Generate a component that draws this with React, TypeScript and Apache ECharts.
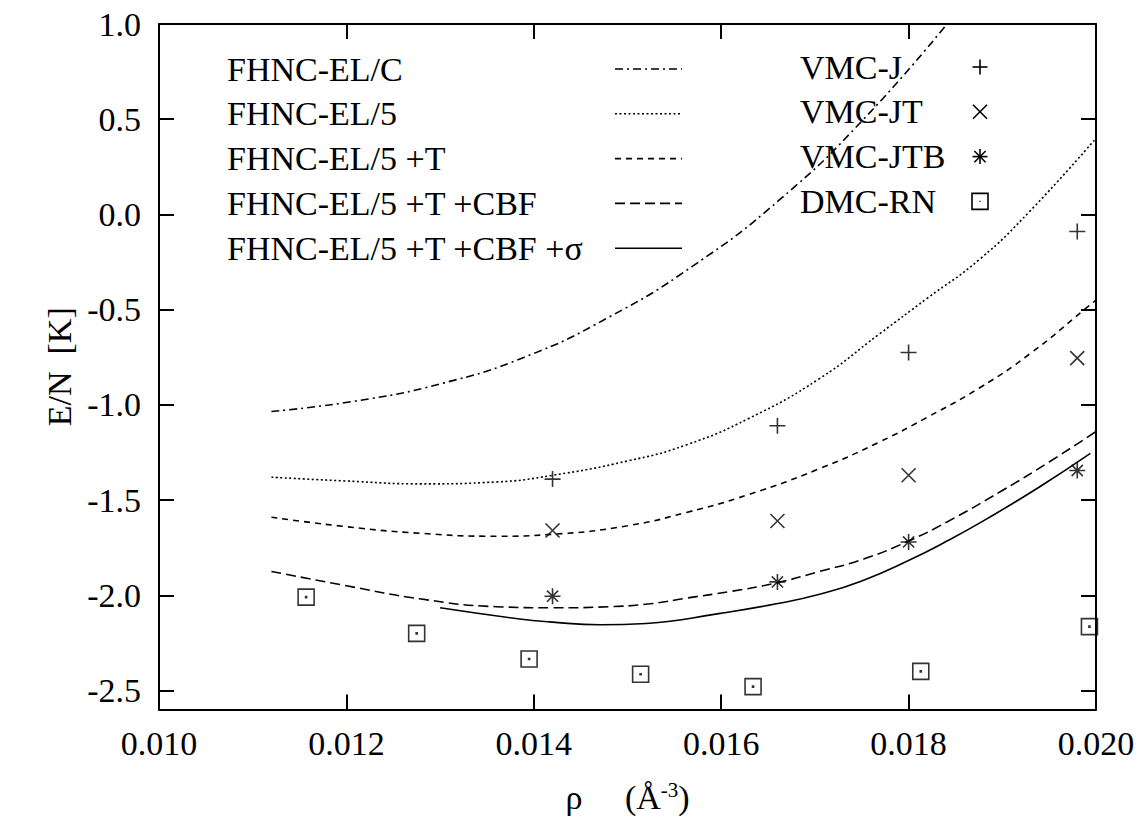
import React, { useEffect, useRef } from "react";
import * as echarts from "echarts";

// ---- data ----
const X_TICKS = [0.01, 0.012, 0.014, 0.016, 0.018, 0.02];
const Y_TICKS = [-2.5, -2.0, -1.5, -1.0, -0.5, 0.0, 0.5, 1.0];

const LINE_NAMES = [
  "FHNC-EL/C",
  "FHNC-EL/5",
  "FHNC-EL/5 +T",
  "FHNC-EL/5 +T +CBF",
  "FHNC-EL/5 +T +CBF +σ",
];
const POINT_NAMES = ["VMC-J", "VMC-JT", "VMC-JTB", "DMC-RN"];

const rhoELC = [0.0112, 0.0121, 0.013, 0.0139, 0.0148, 0.0157, 0.01663, 0.01752, 0.01841];
const eELC = [-1.035, -0.98, -0.89, -0.75, -0.54, -0.27, 0.08, 0.5, 1.0];

const rhoEL5 = [0.0112, 0.012, 0.0128, 0.0136, 0.0142, 0.015, 0.01563, 0.0163, 0.01705, 0.01769, 0.0182, 0.01876, 0.0193, 0.02];
const eEL5 = [-1.38, -1.4, -1.415, -1.405, -1.37, -1.295, -1.21, -1.07, -0.862, -0.627, -0.44, -0.235, 0.02, 0.4];

const rhoEL5T = [0.0112, 0.012, 0.0128, 0.0136, 0.0142, 0.015, 0.01563, 0.0163, 0.01705, 0.01769, 0.0182, 0.01876, 0.0193, 0.0199, 0.02];
const eEL5T = [-1.59, -1.64, -1.675, -1.69, -1.68, -1.635, -1.565, -1.47, -1.335, -1.195, -1.065, -0.91, -0.73, -0.49, -0.45];

const rhoEL5TC = [0.0112, 0.012, 0.0128, 0.0136, 0.0142, 0.0148, 0.01524, 0.01563, 0.0161, 0.01659, 0.01705, 0.01752, 0.018, 0.01841, 0.019, 0.0195, 0.02];
const eEL5TC = [-1.875, -1.95, -2.02, -2.06, -2.066, -2.06, -2.045, -2.015, -1.98, -1.935, -1.875, -1.81, -1.715, -1.615, -1.45, -1.3, -1.14];

const rhoEL5TCS = [0.013, 0.01385, 0.01417, 0.01471, 0.0152, 0.01599, 0.01659, 0.01705, 0.0175, 0.01801, 0.01843, 0.01883, 0.0194, 0.01994];
const eEL5TCS = [-2.066, -2.125, -2.14, -2.155, -2.148, -2.095, -2.045, -1.995, -1.925, -1.815, -1.71, -1.6, -1.43, -1.255];

const rhoVMC = [0.0142, 0.0166, 0.018, 0.0198];
const eVMCJ = [-1.39, -1.11, -0.725, -0.09];
const eVMCJT = [-1.66, -1.61, -1.37, -0.755];
const eVMCJTB = [-2.005, -1.93, -1.72, -1.345];

const rhoDMC = [0.01157, 0.01275, 0.01395, 0.01514, 0.01634, 0.01813, 0.01993];
const eDMC = [-2.01, -2.2, -2.335, -2.415, -2.48, -2.4, -2.165];

// ---- styles ----
const FONT = "Liberation Serif";
const FS = 34;
const DASHES: (number[] | "solid")[] = [[8, 4, 2, 4], [2, 2.5], [6, 5], [10, 5], "solid"];
const SYMBOLS = [
  "path://M0,6 L12,6 M6,0 L6,12",
  "path://M0,0 L12,12 M12,0 L0,12",
  "path://M6,0 L6,12 M0,6 L12,6 M1.8,1.8 L10.2,10.2 M10.2,1.8 L1.8,10.2",
  "path://M0,0 L12,0 L12,12 L0,12 Z M5.6,5.6 L6.4,5.6 L6.4,6.4 L5.6,6.4 Z",
];
const SYMBOL_SIZES = [16, 14, 16, 16];

const zip = (xs: number[], ys: number[]) => xs.map((x, i) => [x, ys[i]]);

export default function App() {
  const ref = useRef<HTMLDivElement>(null);
  useEffect(() => {
    if (!ref.current) return;
    const chart = echarts.init(ref.current, undefined, { renderer: "svg" });

    const lineData = [
      zip(rhoELC, eELC),
      zip(rhoEL5, eEL5),
      zip(rhoEL5T, eEL5T),
      zip(rhoEL5TC, eEL5TC),
      zip(rhoEL5TCS, eEL5TCS),
    ];
    const pointData = [
      zip(rhoVMC, eVMCJ),
      zip(rhoVMC, eVMCJT),
      zip(rhoVMC, eVMCJTB),
      zip(rhoDMC, eDMC),
    ];

    const lineSeries = LINE_NAMES.map((name, i) => ({
      name,
      type: "line",
      data: lineData[i],
      showSymbol: false,
      symbol: "none",
      smooth: 0.5,
      clip: true,
      lineStyle: { color: "#000", width: 1.6, type: DASHES[i] },
      xAxisIndex: 0,
      yAxisIndex: 0,
      z: 2,
    }));
    const pointSeries = POINT_NAMES.map((name, i) => ({
      name,
      type: "scatter",
      data: pointData[i],
      symbol: SYMBOLS[i],
      symbolSize: SYMBOL_SIZES[i],
      itemStyle: { color: "rgba(0,0,0,0)", borderColor: "#000", borderWidth: 1.6 },
      xAxisIndex: 0,
      yAxisIndex: 0,
      z: 3,
    }));

    // legend drawn as graphic
    const rowY = (i: number) => 69 + i * 44.8;
    const legendGraphics: any[] = [];
    LINE_NAMES.forEach((name, i) => {
      legendGraphics.push({
        type: "text",
        x: 227,
        y: rowY(i),
        style: { text: name, fontFamily: FONT, fontSize: FS, fill: "#000", verticalAlign: "middle" },
      });
      legendGraphics.push({
        type: "line",
        shape: { x1: 615, y1: rowY(i), x2: 682, y2: rowY(i) },
        style: { stroke: "#000", lineWidth: 1.6, lineDash: DASHES[i] === "solid" ? null : DASHES[i] },
      });
    });
    POINT_NAMES.forEach((name, i) => {
      const cy = rowY(i) - 2;
      legendGraphics.push({
        type: "text",
        x: 800,
        y: cy,
        style: { text: name, fontFamily: FONT, fontSize: FS, fill: "#000", verticalAlign: "middle" },
      });
      const cx = 980;
      const h = 7.5;
      const st = { stroke: "#000", lineWidth: 1.6, fill: "none" };
      const children: any[] = [];
      if (i === 0 || i === 2) {
        children.push({ type: "line", shape: { x1: cx - h, y1: cy, x2: cx + h, y2: cy }, style: st });
        children.push({ type: "line", shape: { x1: cx, y1: cy - h, x2: cx, y2: cy + h }, style: st });
      }
      if (i === 1 || i === 2) {
        const d = i === 1 ? 7 : 5.6;
        children.push({ type: "line", shape: { x1: cx - d, y1: cy - d, x2: cx + d, y2: cy + d }, style: st });
        children.push({ type: "line", shape: { x1: cx + d, y1: cy - d, x2: cx - d, y2: cy + d }, style: st });
      }
      if (i === 3) {
        children.push({ type: "rect", shape: { x: cx - 8, y: cy - 8, width: 16, height: 16 }, style: st });
        children.push({ type: "rect", shape: { x: cx - 0.6, y: cy - 0.6, width: 1.2, height: 1.2 }, style: { fill: "#000" } });
      }
      legendGraphics.push({ type: "group", children });
    });

    const axisLineStyle = { color: "#000", width: 2 };
    const tickStyle = { color: "#000", width: 2 };
    const labelStyle = { fontFamily: FONT, fontSize: FS, color: "#000" };

    chart.setOption({
      animation: false,
      backgroundColor: "#fff",
      textStyle: { fontFamily: FONT },
      grid: { left: 159, right: 44, top: 24, bottom: 107, containLabel: false },
      xAxis: [
        {
          type: "value",
          min: 0.01,
          max: 0.02,
          interval: 0.002,
          position: "bottom",
          axisLine: { show: true, onZero: false, lineStyle: axisLineStyle },
          axisTick: { show: true, inside: true, length: 15, lineStyle: tickStyle, customValues: X_TICKS },
          axisLabel: {
            show: true,
            customValues: X_TICKS,
            formatter: (v: number) => v.toFixed(3),
            ...labelStyle,
            margin: 17,
          },
          splitLine: { show: false },
          name: "ρ     (Å{sup|-3})",
          nameLocation: "middle",
          nameGap: 70,
          nameTextStyle: {
            ...labelStyle,
            rich: { sup: { fontFamily: FONT, fontSize: 21, color: "#000", verticalAlign: "top", padding: [0, 0, 14, 0] } },
          },
        },
        {
          type: "value",
          min: 0.01,
          max: 0.02,
          interval: 0.002,
          position: "top",
          axisLine: { show: true, onZero: false, lineStyle: axisLineStyle },
          axisTick: { show: true, inside: true, length: 15, lineStyle: tickStyle, customValues: X_TICKS },
          axisLabel: { show: false },
          splitLine: { show: false },
        },
      ],
      yAxis: [
        {
          type: "value",
          min: -2.6,
          max: 1.0,
          position: "left",
          axisLine: { show: true, onZero: false, lineStyle: axisLineStyle },
          axisTick: { show: true, inside: true, length: 15, lineStyle: tickStyle, customValues: Y_TICKS },
          axisLabel: {
            show: true,
            customValues: Y_TICKS,
            formatter: (v: number) => v.toFixed(1),
            ...labelStyle,
            margin: 18,
          },
          splitLine: { show: false },
          name: "E/N  [K]",
          nameLocation: "middle",
          nameRotate: 90,
          nameGap: 80,
          nameTextStyle: labelStyle,
        },
        {
          type: "value",
          min: -2.6,
          max: 1.0,
          position: "right",
          axisLine: { show: true, onZero: false, lineStyle: axisLineStyle },
          axisTick: { show: true, inside: true, length: 15, lineStyle: tickStyle, customValues: Y_TICKS },
          axisLabel: { show: false },
          splitLine: { show: false },
        },
      ],
      series: [...lineSeries, ...pointSeries],
      graphic: legendGraphics,
    });

    return () => chart.dispose();
  }, []);

  return (
    <div
      ref={ref}
      style={{ position: "fixed", left: 0, top: 0, width: 1140, height: 819, background: "#fff" }}
    />
  );
}
